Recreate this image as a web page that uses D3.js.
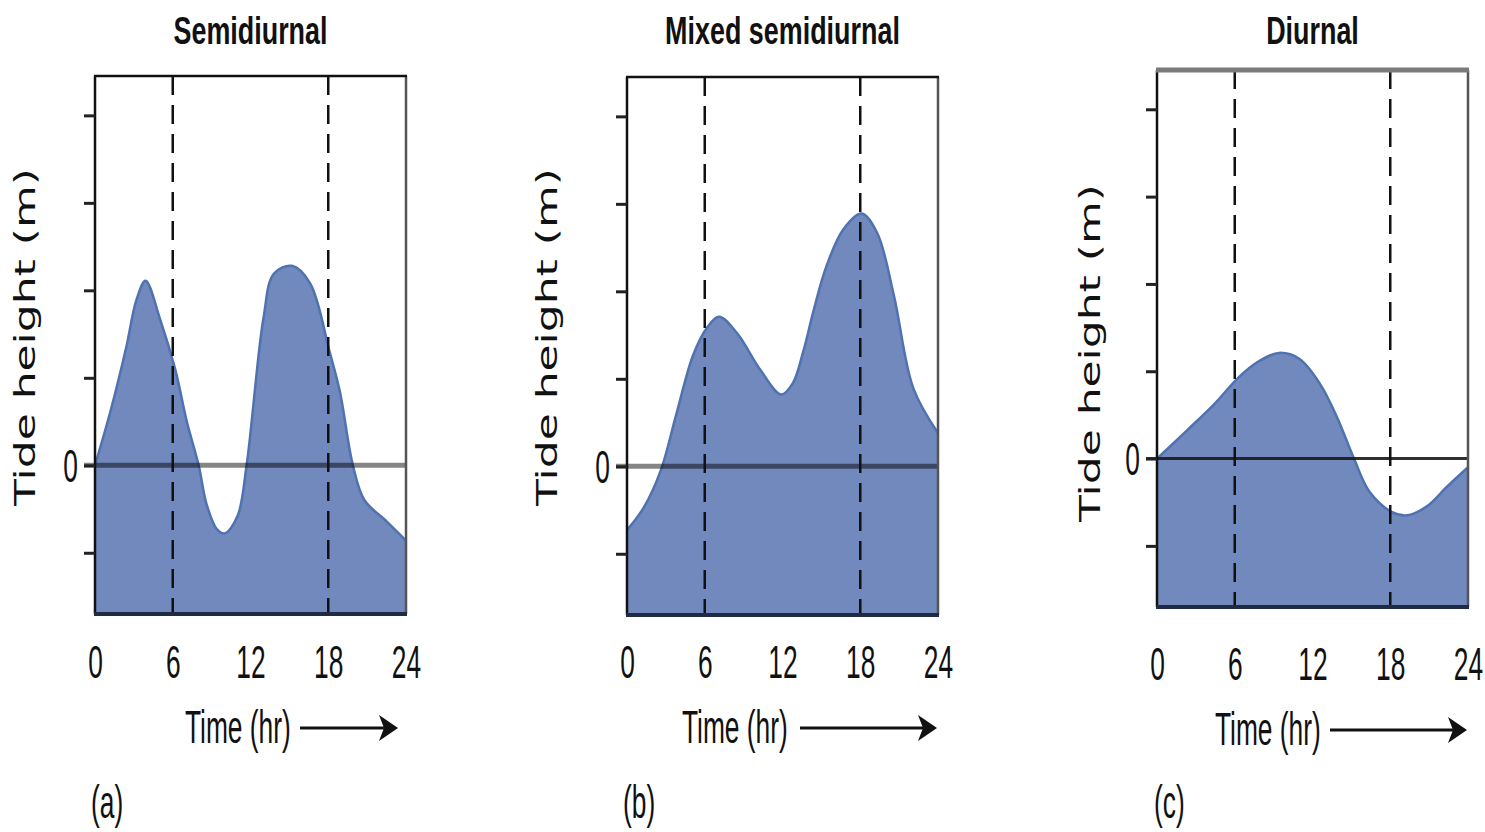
<!DOCTYPE html>
<html lang="en">
<head>
    <meta charset="UTF-8">
    <title>Tide types</title>
    <script src="https://d3js.org/d3.v7.min.js"></script>
    <style>
        body { margin: 0; background: #fff; }
        .narrow { font-family: "Liberation Sans", Arial, sans-serif; fill: #111; }
        .title { font-family: "Liberation Sans", Arial, sans-serif; font-weight: bold; fill: #111; }
        .ylab { font-family: "DejaVu Sans", Verdana, sans-serif; fill: #111; }
    </style>
</head>
<body>
<svg width="1485" height="832"></svg>

<script>
    // ---- data ----
    const panelTitles = ["Semidiurnal", "Mixed semidiurnal", "Diurnal"];
    const panelLetters = ["(a)", "(b)", "(c)"];
    const hourTicks = [0, 6, 12, 18, 24];
    const heightTicks = [-1, 0, 1, 2, 3, 4];
    const guideHours = [6, 18];
    const yLabel = "Tide height (m)";
    const xLabel = "Time (hr)";

    // semidiurnal
    const hoursA = [0, 1.2, 2.4, 3.2, 3.9, 5.0, 6.2, 7.1, 8.0, 8.6, 9.4, 10.0, 11.0, 11.7, 13.0, 13.8, 15.2, 16.6, 18.1, 18.9, 19.9, 20.8, 22.5, 24];
    const tideA  = [0, 0.62, 1.34, 1.89, 2.11, 1.68, 1.09, 0.49, 0, -0.44, -0.73, -0.78, -0.58, 0, 1.68, 2.19, 2.28, 2.08, 1.3, 0.84, 0, -0.4, -0.64, -0.86];
    // mixed semidiurnal
    const hoursB = [0, 1.3, 2.6, 3.8, 5.1, 6.2, 7.1, 8.5, 10.3, 11.9, 12.8, 13.6, 14.4, 15.4, 16.7, 18.1, 19.3, 20.6, 22.1, 24];
    const tideB  = [-0.73, -0.47, -0.05, 0.59, 1.27, 1.59, 1.71, 1.52, 1.10, 0.82, 0.95, 1.31, 1.78, 2.29, 2.71, 2.89, 2.67, 1.95, 0.89, 0.38];
    // diurnal
    const hoursC = [0, 2.3, 4.4, 6.3, 7.7, 9.4, 11.0, 12.6, 13.9, 15.2, 16.4, 18.1, 19.3, 20.8, 22.4, 24];
    const tideC  = [0, 0.32, 0.62, 0.93, 1.10, 1.21, 1.14, 0.85, 0.47, 0, -0.38, -0.61, -0.65, -0.55, -0.32, -0.1];

    const seriesHours = [hoursA, hoursB, hoursC];
    const seriesTide = [tideA, tideB, tideC];

    // ---- layout ----
    const frames = [
        {left: 95,   right: 406,  top: 76, bottom: 614, tickY: 678, timeX: 185,  timeY: 743, arrow: [300, 398, 728],   letterX: 91,   yLabX: 35,   yLabY: 337, diurnal: false},
        {left: 627,  right: 938,  top: 77, bottom: 615, tickY: 678, timeX: 682,  timeY: 743, arrow: [800, 937, 728],   letterX: 623,  yLabX: 557,  yLabY: 337, diurnal: false},
        {left: 1157, right: 1468, top: 70, bottom: 607, tickY: 680, timeX: 1215, timeY: 745, arrow: [1330, 1467, 730], letterX: 1154, yLabX: 1100, yLabY: 353, diurnal: true}
    ];

    const fillColor = "#7189bd";
    const lineColor = "#4f72b0";
    const squeeze = 0.56;     // condensed look of the labels
    const titleSqueeze = 0.69;

    const svg = d3.select("svg");

    // text drawn at (x, y) and squeezed horizontally
    function narrowText(g, str, x, y, size, sx, anchor, cls) {
        return g.append("text")
            .attr("class", cls || "narrow")
            .attr("transform", `translate(${x},${y}) scale(${sx},1)`)
            .attr("text-anchor", anchor || "start")
            .style("font-size", size + "px")
            .text(str);
    }

    frames.forEach(function (f, i) {
        const g = svg.append("g");

        const x = d3.scaleLinear().domain([0, 24]).range([f.left, f.right]);
        const y = d3.scaleLinear().domain([-1.7, 4.45]).range([f.bottom, f.top]);

        const pts = seriesHours[i].map((h, k) => [h, seriesTide[i][k]]);
        const curve = d3.curveCatmullRom.alpha(0.5);

        const area = d3.area()
            .x(d => x(d[0]))
            .y0(f.bottom)
            .y1(d => y(d[1]))
            .curve(curve);
        const line = d3.line()
            .x(d => x(d[0]))
            .y(d => y(d[1]))
            .curve(curve);

        g.append("path").datum(pts).attr("d", area).attr("fill", fillColor);
        g.append("path").datum(pts).attr("d", line)
            .attr("fill", "none").attr("stroke", lineColor).attr("stroke-width", 2.5);

        // zero line, runs out to the tick marks
        g.append("line")
            .attr("x1", f.left - 11).attr("x2", f.right)
            .attr("y1", y(0)).attr("y2", y(0))
            .attr("stroke", f.diurnal ? "#1a1a1a" : "#000")
            .attr("stroke-opacity", f.diurnal ? 0.9 : 0.48)
            .attr("stroke-width", f.diurnal ? 3 : 5);

        // dashed guides at 6 and 18 h
        g.selectAll(".guide").data(guideHours).join("line")
            .attr("class", "guide")
            .attr("x1", d => x(d)).attr("x2", d => x(d))
            .attr("y1", f.top).attr("y2", f.bottom)
            .attr("stroke", "#111").attr("stroke-width", 2.5)
            .attr("stroke-dasharray", "19,10");

        // frame
        g.append("line").attr("x1", f.left).attr("x2", f.left).attr("y1", f.top).attr("y2", f.bottom)
            .attr("stroke", "#111").attr("stroke-width", 2.5);
        g.append("line").attr("x1", f.right).attr("x2", f.right).attr("y1", f.top).attr("y2", f.bottom)
            .attr("stroke", "#555").attr("stroke-width", 2.5);
        g.append("line").attr("x1", f.left - 1).attr("x2", f.right + 1).attr("y1", f.top).attr("y2", f.top)
            .attr("stroke", f.diurnal ? "#7a7a7a" : "#111").attr("stroke-width", f.diurnal ? 5 : 2.5);
        g.append("line").attr("x1", f.left - 1).attr("x2", f.right + 1).attr("y1", f.bottom).attr("y2", f.bottom)
            .attr("stroke", "#1f2a44").attr("stroke-width", 4);

        // y axis: ticks, only 0 labelled
        const yAxis = d3.axisLeft(y).tickValues(heightTicks).tickSize(11)
            .tickFormat(d => d === 0 ? "0" : "");
        const ya = g.append("g").attr("transform", `translate(${f.left},0)`).call(yAxis);
        ya.select(".domain").remove();
        ya.selectAll(".tick line").attr("stroke", "#222").attr("stroke-width", 3);
        ya.selectAll(".tick text")
            .attr("x", 0).attr("dy", "0.34em")
            .attr("transform", `translate(-17,0) scale(${squeeze},1)`)
            .attr("fill", "#111")
            .style("font-size", "47px").style("font-family", "Liberation Sans, Arial, sans-serif");

        // x axis tick labels
        const xAxis = d3.axisBottom(x).tickValues(hourTicks).tickSize(0).tickFormat(d3.format("d"));
        const xa = g.append("g").attr("transform", `translate(0,${f.tickY})`).call(xAxis);
        xa.select(".domain").remove();
        xa.selectAll(".tick text")
            .attr("y", 0).attr("dy", 0)
            .attr("transform", `scale(${squeeze},1)`)
            .attr("fill", "#111")
            .style("font-size", "47px").style("font-family", "Liberation Sans, Arial, sans-serif");

        // title
        narrowText(g, panelTitles[i], (f.left + f.right) / 2, 44, 39, titleSqueeze, "middle", "title");

        // time label with arrow
        narrowText(g, xLabel, f.timeX, f.timeY, 47, squeeze, "start");
        const [ax0, ax1, ay] = f.arrow;
        g.append("line").attr("x1", ax0).attr("x2", ax1 - 10).attr("y1", ay).attr("y2", ay)
            .attr("stroke", "#111").attr("stroke-width", 3);
        g.append("path")
            .attr("d", `M${ax1},${ay} L${ax1 - 19},${ay - 13} L${ax1 - 14},${ay} L${ax1 - 19},${ay + 13} Z`)
            .attr("fill", "#111");

        // panel letter
        narrowText(g, panelLetters[i], f.letterX, 818, 47, squeeze, "start");

        // rotated y label
        g.append("text")
            .attr("class", "ylab")
            .attr("transform", `translate(${f.yLabX},${f.yLabY}) rotate(-90)`)
            .attr("text-anchor", "middle")
            .attr("textLength", 338)
            .attr("lengthAdjust", "spacingAndGlyphs")
            .style("font-size", "28px")
            .text(yLabel);
    });
</script>
</body>
</html>
